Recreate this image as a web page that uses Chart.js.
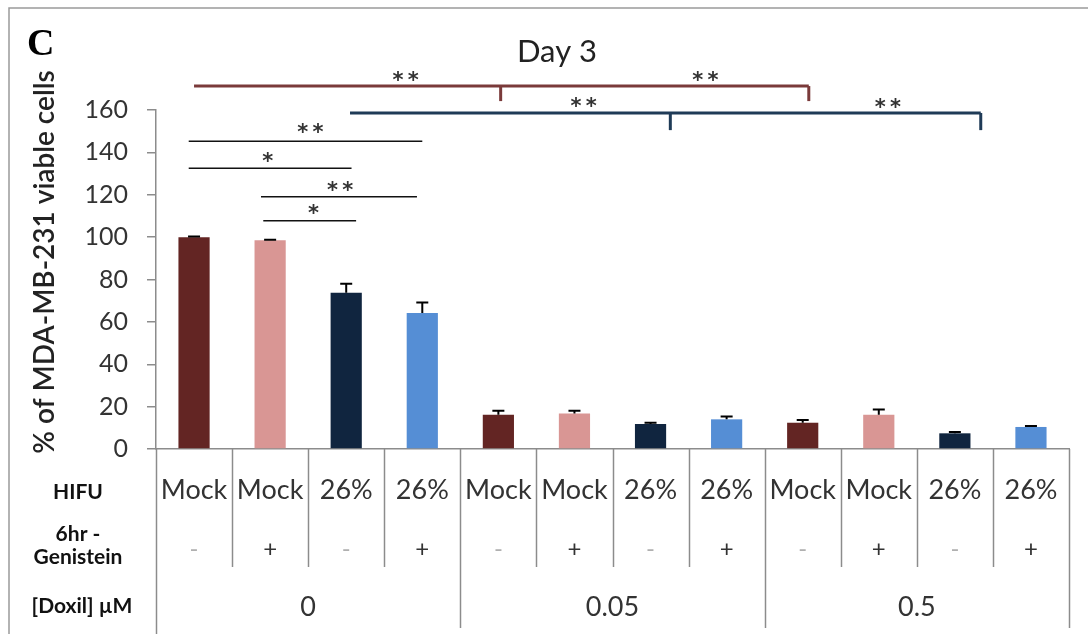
<!DOCTYPE html>
<html><head><meta charset="utf-8">
<script src="https://cdn.jsdelivr.net/npm/chart.js@4/dist/chart.umd.min.js"></script>
<style>html,body{margin:0;padding:0;background:#fff;} #wrap{width:1088px;height:634px;position:relative}</style>
</head><body><div id="wrap"><canvas id="c" width="1088" height="634"></canvas></div>
<script>
// ---- data ----
const categories = ['A1','A2','A3','A4','B1','B2','B3','B4','C1','C2','C3','C4'];
const hifu = ['Mock','Mock','26%','26%','Mock','Mock','26%','26%','Mock','Mock','26%','26%'];
const genistein = ['-','+','-','+','-','+','-','+','-','+','-','+'];
const doxilGroups = ['0','0.05','0.5'];
const groupSize = 4;
const viability = [100, 98.5, 73.8, 64.2, 16.2, 16.8, 11.8, 14.0, 12.4, 16.2, 7.4, 10.4];
const errorUp = [0.3, 0.3, 4.2, 5.0, 1.9, 1.3, 0.6, 1.3, 1.3, 2.5, 0.6, 0.5];
const barColors = ['#632523','#D99694','#10253F','#558ED5','#632523','#D99694','#10253F','#558ED5','#632523','#D99694','#10253F','#558ED5'];
const yMin = 0, yMax = 160, yStep = 20;
const rowLabels = ['HIFU', ['6hr -','Genistein'], '[Doxil] \u00b5M'];
const titleText = 'Day 3';
const panelLetter = 'C';
const yTitle = '% of MDA-MB-231 viable cells';
// significance lines: [xStart, xEnd, y, label, labelX, labelY]
const sigLines = [
  [-0.07, 3.0, 145.3, '**', 1.53, 151.0],
  [-0.07, 2.07, 132.5, '*', 0.97, 137.0],
  [0.88, 2.93, 119.1, '**', 1.92, 123.5],
  [0.91, 2.13, 107.7, '*', 1.57, 112.5]
];
// brackets: [xStart, xEnd, y, dropTo, dropXs, colour]
const brackets = [
  [0.0, 8.08, 171.3, 164.2, [4.03, 8.08], '#7A3A3A'],
  [2.05, 10.34, 158.6, 150.5, [6.26, 10.34], '#1F3B57']
];
// bracket labels: [x, y, label]
const bracketLabels = [
  [2.78, 175.5, '**'], [6.72, 175.5, '**'],
  [5.12, 163.0, '**'], [9.12, 162.5, '**']
];

const FONT = 'Lato';

const overlay = {
  id: 'overlay',
  afterDatasetsDraw(chart) {
    const ctx = chart.ctx, x = chart.scales.x, y = chart.scales.y;
    ctx.save();
    ctx.strokeStyle = '#000'; ctx.lineWidth = 2;
    viability.forEach((v, i) => {
      const px = x.getPixelForValue(i);
      const y0 = y.getPixelForValue(v), y1 = y.getPixelForValue(v + errorUp[i]);
      ctx.beginPath();
      ctx.moveTo(px, y0); ctx.lineTo(px, y1);
      ctx.moveTo(px - 6, y1); ctx.lineTo(px + 6, y1);
      ctx.stroke();
    });
    ctx.restore();
  },
  afterDraw(chart) {
    const ctx = chart.ctx, x = chart.scales.x, y = chart.scales.y;
    const area = chart.chartArea;
    ctx.save();
    // outer frame (top & left)
    ctx.strokeStyle = '#9a9a9a'; ctx.lineWidth = 1.5;
    ctx.beginPath(); ctx.moveTo(9, 634); ctx.lineTo(9, 8); ctx.lineTo(1088, 8); ctx.stroke();
    // panel letter
    ctx.fillStyle = '#000';
    ctx.font = 'bold 38px "Liberation Serif"';
    ctx.textAlign = 'left'; ctx.textBaseline = 'alphabetic';
    ctx.fillText(panelLetter, 27, 55);
    // title
    ctx.fillStyle = '#222';
    ctx.font = '31px ' + FONT;
    ctx.textAlign = 'center'; ctx.textBaseline = 'middle';
    ctx.fillText(titleText, 557, 52);
    // y title
    ctx.save();
    ctx.translate(45, 262); ctx.rotate(-Math.PI / 2);
    ctx.font = '600 28px ' + FONT; ctx.fillStyle = '#222';
    ctx.fillText(yTitle, 0, 0);
    ctx.restore();
    // significance lines
    ctx.strokeStyle = '#111'; ctx.lineWidth = 1.5;
    sigLines.forEach(s => {
      const py = y.getPixelForValue(s[2]);
      ctx.beginPath(); ctx.moveTo(x.getPixelForValue(s[0]), py); ctx.lineTo(x.getPixelForValue(s[1]), py); ctx.stroke();
    });
    brackets.forEach(b => {
      ctx.strokeStyle = b[5]; ctx.lineWidth = 3;
      const py = y.getPixelForValue(b[2]), pd = y.getPixelForValue(b[3]);
      ctx.beginPath(); ctx.moveTo(x.getPixelForValue(b[0]), py); ctx.lineTo(x.getPixelForValue(b[1]), py); ctx.stroke();
      b[4].forEach(dx => {
        const px = x.getPixelForValue(dx);
        ctx.beginPath(); ctx.moveTo(px, py); ctx.lineTo(px, pd); ctx.stroke();
      });
    });
    ctx.fillStyle = '#333'; ctx.font = 'bold 21px "DejaVu Sans"';
    ctx.textAlign = 'center'; ctx.textBaseline = 'middle';
    const star = t => t.split('').join('\u2009');
    sigLines.forEach(s => ctx.fillText(star(s[3]), x.getPixelForValue(s[4]), y.getPixelForValue(s[5]) + 4));
    bracketLabels.forEach(l => ctx.fillText(star(l[2]), x.getPixelForValue(l[0]), y.getPixelForValue(l[1]) + 4));

    // table
    const base = area.bottom;
    ctx.strokeStyle = '#8c8c8c'; ctx.lineWidth = 1.5;
    for (let i = 1; i <= categories.length; i++) {
      const px = Math.round(x.getPixelForValue(i - 0.5)) + 0.5;
      const bottom = (i % groupSize === 0) ? 628 : 567;
      ctx.beginPath(); ctx.moveTo(px, base); ctx.lineTo(px, bottom); ctx.stroke();
    }
    ctx.beginPath(); ctx.moveTo(area.left + 0.5, base); ctx.lineTo(area.left + 0.5, 634); ctx.stroke();
    ctx.textAlign = 'center'; ctx.textBaseline = 'middle';
    ctx.font = '27px ' + FONT; ctx.fillStyle = '#333';
    hifu.forEach((t, i) => ctx.fillText(t, x.getPixelForValue(i), 490));
    genistein.forEach((t, i) => {
      ctx.fillStyle = t === '+' ? '#333' : '#b0b0b0';
      ctx.font = '24px ' + FONT;
      ctx.fillText(t, x.getPixelForValue(i), 549);
    });
    ctx.fillStyle = '#333'; ctx.font = '27px ' + FONT;
    doxilGroups.forEach((g, gi) => {
      const c = x.getPixelForValue(gi * groupSize + (groupSize - 1) / 2);
      ctx.fillText(g, c, 607);
    });
    // row labels
    ctx.fillStyle = '#111'; ctx.font = 'bold 21px ' + FONT;
    ctx.fillText(rowLabels[0], 78, 492);
    ctx.fillText(rowLabels[1][0], 78, 534);
    ctx.fillText(rowLabels[1][1], 78, 557);
    ctx.fillText(rowLabels[2], 82, 606);
    ctx.restore();
  }
};

new Chart(document.getElementById('c'), {
  type: 'bar',
  data: {
    labels: categories,
    datasets: [{ data: viability, backgroundColor: barColors, borderWidth: 0,
      barPercentage: 0.41, categoryPercentage: 1.0 }]
  },
  options: {
    responsive: false, animation: false, events: [],
    layout: { padding: { top: 110, right: 19, bottom: 0, left: 0 } },
    plugins: { legend: { display: false }, tooltip: { enabled: false }, title: { display: false } },
    scales: {
      x: {
        offset: true,
        grid: { display: false },
        border: { display: true, color: '#8c8c8c', width: 1.5 },
        ticks: { display: false },
        afterFit(s) { s.height = 185; }
      },
      y: {
        min: yMin, max: yMax,
        grid: { display: true, drawOnChartArea: false, drawTicks: true, tickLength: 9, color: '#8c8c8c', lineWidth: 1.5 },
        border: { display: true, color: '#8c8c8c', width: 1.5 },
        ticks: { stepSize: yStep, padding: 19, color: '#333', font: { family: FONT, size: 25 } },
        afterFit(s) { s.width = 156; }
      }
    }
  },
  plugins: [overlay]
});
</script>
</body></html>
